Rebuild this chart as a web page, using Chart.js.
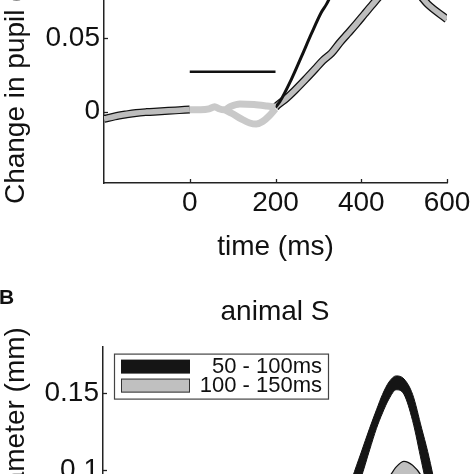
<!DOCTYPE html>
<html><head><meta charset="utf-8">
<script src="https://cdn.jsdelivr.net/npm/chart.js@4.4.1/dist/chart.umd.min.js"></script>
<style>
html,body{margin:0;padding:0;background:#fff;}
#wrap{position:relative;width:474px;height:474px;overflow:hidden;background:#fff;}
#c1{position:absolute;left:0;top:-180px;}
#c2{position:absolute;left:0;top:285px;}
</style></head><body>
<div id="wrap"><canvas id="c1" width="474" height="446"></canvas><canvas id="c2" width="474" height="490"></canvas></div>
<script>
// ---------- DATA (panel A, top) ----------
const yTitle = 'Change in pupil diameter (mm)';
const xTitle = 'time (ms)';
const xTicks = [0, 200, 400, 600];
const xTickLabels = ['0', '200', '400', '600'];
const yTicksTop = [0, 0.05, 0.1, 0.15];
const yTickLabelsTop = ['0', '0.05', '0.1', '0.15'];

const preTime = [-200, -175, -150, -125, -100, -75, -50, -25, 0];
const preBand = [-0.005, -0.0033, -0.002, -0.0009, -0.0003, 0.0001, 0.0005, 0.001, 0.0015];

const early1Time = [0, 25, 45, 58, 68, 80, 95, 117, 150, 180, 200];
const early1 = [0.0012, 0.0012, 0.0018, 0.0033, 0.002, 0.0012, 0.0035, 0.0052, 0.0048, 0.0038, 0.003];

const early2Time = [80, 100, 120, 140, 155, 170, 185, 200];
const early2 = [0.0015, -0.0015, -0.005, -0.0078, -0.0085, -0.0068, -0.003, 0.002];

const postBlackTime = [200, 210, 237, 261, 284, 307, 319, 340, 360];
const postBlack = [0.003, 0.0067, 0.022, 0.0378, 0.0533, 0.0678, 0.0733, 0.086, 0.098];

const postGrayTime = [200, 206, 225, 245, 270, 292, 311, 331, 350, 369, 389, 408, 427, 450, 480, 510, 535, 555, 600];
const postGray = [0.003, 0.0047, 0.009, 0.0145, 0.022, 0.0289, 0.035, 0.04, 0.047, 0.0533, 0.06, 0.0667, 0.0733, 0.081, 0.086, 0.086, 0.08, 0.0733, 0.063];

const barTime = [0, 200];
const barValue = [0.0272, 0.0272];

// ---------- DATA (panel B, bottom) ----------
const panelLabel = 'B';
const titleB = 'animal S';
const yTicksBottom = [0, 0.05, 0.1, 0.15];
const yTickLabelsBottom = ['0', '0.05', '0.1', '0.15'];
const legendLabels = ['50 - 100ms', '100 - 150ms'];
const bTime = [-200, -100, 0, 100, 200, 300, 350, 380, 400, 420, 436, 450, 465, 482, 500, 520, 541, 555, 568, 585, 600];
const blackOuter = [0, 0, 0.001, 0.002, 0.008, 0.03, 0.068, 0.095, 0.111, 0.127, 0.139, 0.149, 0.157, 0.161, 0.159, 0.149, 0.127, 0.112, 0.0956, 0.07, 0.05];
const blackInner = [-0.002, -0.002, -0.001, 0, 0.004, 0.022, 0.058, 0.082, 0.095, 0.113, 0.127, 0.137, 0.146, 0.152, 0.149, 0.132, 0.105, 0.087, 0.072, 0.052, 0.036];
const grayUpper = [0, 0, 0.001, 0.002, 0.006, 0.025, 0.045, 0.06, 0.07, 0.079, 0.085, 0.089, 0.095, 0.102, 0.1056, 0.103, 0.096, 0.088, 0.08, 0.068, 0.058];
const grayLower = [-0.002, -0.002, -0.001, 0, 0.003, 0.016, 0.034, 0.048, 0.058, 0.067, 0.073, 0.077, 0.083, 0.089, 0.092, 0.09, 0.083, 0.076, 0.068, 0.056, 0.046];

// ---------- RENDER ----------
const FONT = '"Liberation Sans", Arial, Helvetica, sans-serif';
Chart.defaults.font.family = FONT;
Chart.defaults.color = '#111';
const pts = (xs, ys) => xs.map((x, i) => ({x: x, y: ys[i]}));

const inwardTicks = {
  id: 'inwardTicks',
  afterDraw(chart) {
    const {ctx, chartArea: a, scales: {x, y}} = chart;
    ctx.save();
    ctx.strokeStyle = '#222';
    ctx.lineWidth = 1.3;
    x.ticks.forEach(t => {
      const px = Math.round(x.getPixelForValue(t.value)) + 0.5;
      ctx.beginPath(); ctx.moveTo(px, a.bottom); ctx.lineTo(px, a.bottom - 4); ctx.stroke();
    });
    y.ticks.forEach(t => {
      const py = Math.round(y.getPixelForValue(t.value)) + 0.5;
      ctx.beginPath(); ctx.moveTo(a.left, py); ctx.lineTo(a.left + 4, py); ctx.stroke();
    });
    // rotated y-axis title, centred on the plot area, never squeezed
    ctx.translate(16.5, (a.top + a.bottom) / 2);
    ctx.rotate(-Math.PI / 2);
    ctx.font = '28px ' + FONT;
    ctx.fillStyle = '#111';
    ctx.textAlign = 'center';
    ctx.textBaseline = 'middle';
    ctx.fillText(yTitle, 0, 0);
    ctx.restore();
  }
};

function xScale() {
  return {
    type: 'linear', min: -200, max: 600,
    afterBuildTicks: s => { s.ticks = xTicks.map(v => ({value: v})); },
    afterFit: s => { s.height = 83; },
    grid: {display: false, drawTicks: false},
    border: {display: true, color: '#222', width: 1.5},
    ticks: {padding: 3, font: {size: 28}, color: '#111', autoSkip: false, maxRotation: 0,
            callback: (v, i) => xTickLabels[i]},
    title: {display: true, text: xTitle, font: {size: 28}, color: '#111', padding: {top: 4, bottom: 2}}
  };
}
function yScale(min, max, ticks, labels, width) {
  return {
    type: 'linear', min: min, max: max,
    afterBuildTicks: s => { s.ticks = ticks.map(v => ({value: v})); },
    afterFit: s => { s.width = width; },
    grid: {display: false, drawTicks: false},
    border: {display: true, color: '#222', width: 1.5},
    ticks: {padding: 4, font: {size: 28}, color: '#111', callback: (v, i) => labels[i]},
    title: {display: false}
  };
}

new Chart(document.getElementById('c1'), {
  type: 'line',
  data: {datasets: [
    {data: pts(barTime, barValue), borderColor: '#111', borderWidth: 2.5, order: 0, cubicInterpolationMode: 'default', tension: 0},
    {data: pts(early1Time, early1), borderColor: '#c9c9c9', borderWidth: 7, order: 1},
    {data: pts(early2Time, early2), borderColor: '#c9c9c9', borderWidth: 7, order: 1},
    {data: pts(postBlackTime, postBlack), borderColor: '#111', borderWidth: 3, order: 2},
    {data: pts(postGrayTime, postGray), borderColor: '#bdbdbd', borderWidth: 5.5, order: 3},
    {data: pts(postGrayTime, postGray), borderColor: '#111', borderWidth: 8, order: 4},
    {data: pts(preTime, preBand), borderColor: '#bdbdbd', borderWidth: 5.5, order: 5},
    {data: pts(preTime, preBand), borderColor: '#111', borderWidth: 8, order: 6}
  ]},
  options: {
    responsive: false, animation: false, events: [],
    layout: {padding: {left: 0, right: 27, top: 13, bottom: 0}},
    elements: {point: {radius: 0}, line: {cubicInterpolationMode: 'monotone', fill: false}},
    plugins: {legend: {display: false}, tooltip: {enabled: false}, title: {display: false}},
    scales: {x: xScale(), y: yScale(-0.0487, 0.1847, yTicksTop, yTickLabelsTop, 104)}
  },
  plugins: [inwardTicks]
});

const legendBox = {
  id: 'legendBox',
  afterDraw(chart) {
    const {ctx, chartArea: a} = chart;
    const L = a.left + 11, T = a.top + 7;
    ctx.save();
    ctx.fillStyle = '#fff'; ctx.fillRect(L, T, 214, 45);
    ctx.strokeStyle = '#444'; ctx.lineWidth = 1.2; ctx.strokeRect(L + 0.5, T + 0.5, 214, 45);
    ctx.fillStyle = '#151515'; ctx.fillRect(L + 7, T + 6, 69, 14);
    ctx.fillStyle = '#c0c0c0'; ctx.fillRect(L + 7, T + 25, 69, 14);
    ctx.strokeStyle = '#333'; ctx.lineWidth = 1; ctx.strokeRect(L + 7.5, T + 25.5, 68, 13);
    ctx.font = '22px ' + FONT; ctx.fillStyle = '#111'; ctx.textAlign = 'right'; ctx.textBaseline = 'alphabetic';
    ctx.fillText(legendLabels[0], L + 208, T + 19);
    ctx.fillText(legendLabels[1], L + 208, T + 38.5);
    ctx.font = 'bold 21px ' + FONT; ctx.textAlign = 'left';
    ctx.fillText(panelLabel, -1, 18.5);
    ctx.restore();
  }
};

new Chart(document.getElementById('c2'), {
  type: 'line',
  data: {datasets: [
    {data: pts(bTime, blackOuter), borderColor: '#111', borderWidth: 1, backgroundColor: '#151515', fill: '+1', order: 1},
    {data: pts(bTime, blackInner), borderColor: '#111', borderWidth: 1, fill: false, order: 1},
    {data: pts(bTime, grayUpper), borderColor: '#111', borderWidth: 1.2, backgroundColor: '#c0c0c0', fill: '+1', order: 0},
    {data: pts(bTime, grayLower), borderColor: '#111', borderWidth: 1.2, fill: false, order: 0}
  ]},
  options: {
    responsive: false, animation: false, events: [],
    layout: {padding: {left: 0, right: 27, top: 0, bottom: 0}},
    elements: {point: {radius: 0}, line: {cubicInterpolationMode: 'monotone'}},
    plugins: {
      legend: {display: false}, tooltip: {enabled: false},
      title: {display: true, text: titleB, fullSize: false, font: {size: 28, weight: 'normal'}, color: '#111', padding: {top: 10, bottom: 18}}
    },
    scales: {x: xScale(), y: yScale(-0.044, 0.18, yTicksBottom, yTickLabelsBottom, 103)}
  },
  plugins: [inwardTicks, legendBox]
});
</script></body></html>
